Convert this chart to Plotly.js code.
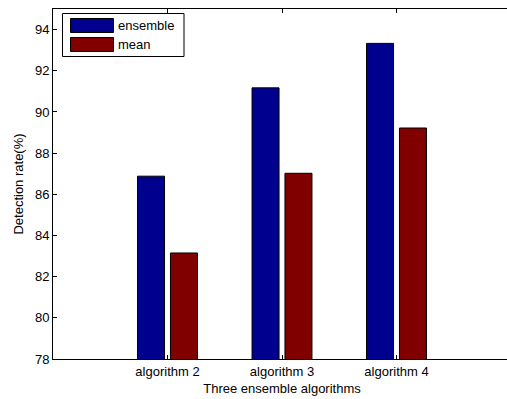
<!DOCTYPE html>
<html>
<head>
<meta charset="utf-8">
<script src="https://cdn.plot.ly/plotly-3.0.1.min.js"></script>
<style>
html, body { margin:0; padding:0; overflow:hidden; background:#fff; width:507px; height:399px; }
#chart { width:512px; height:399px; }
</style>
</head>
<body>
<div id="chart"></div>
<script>
const categories = ['algorithm 2', 'algorithm 3', 'algorithm 4'];
const seriesNames = ['ensemble', 'mean'];
const ensembleValues = [86.88, 91.17, 93.33];
const meanValues = [83.15, 87.02, 89.22];
const seriesColors = ['#00008F', '#800000'];
const yTicks = [78, 80, 82, 84, 86, 88, 90, 92, 94];

const W = 512, H = 399;
const M = {l: 53, r: 1, t: 9, b: 40};
const pw = W - M.l - M.r, ph = H - M.t - M.b;
const px = x => (x - M.l) / pw;
const py = y => (H - M.b - y) / ph;

const font = {family: 'Liberation Sans, Arial, Helvetica, sans-serif', size: 13, color: '#000'};

const traces = [ensembleValues, meanValues].map((vals, i) => ({
  type: 'bar',
  name: seriesNames[i],
  x: categories,
  y: vals,
  marker: {color: seriesColors[i], line: {color: '#000', width: 1}},
  showlegend: false,
  hoverinfo: 'none'
}));

const shapes = [
  {type: 'rect', xref: 'paper', yref: 'paper', x0: px(62.5), x1: px(184), y0: py(13.5), y1: py(56.5),
   line: {color: '#000', width: 1}, fillcolor: '#fff', layer: 'above'},
  {type: 'rect', xref: 'paper', yref: 'paper', x0: px(70.5), x1: px(113.5), y0: py(18.5), y1: py(32.5),
   line: {color: '#000', width: 1}, fillcolor: seriesColors[0], layer: 'above'},
  {type: 'rect', xref: 'paper', yref: 'paper', x0: px(70.5), x1: px(113.5), y0: py(37.5), y1: py(51.5),
   line: {color: '#000', width: 1}, fillcolor: seriesColors[1], layer: 'above'}
];
const annotations = seriesNames.map((n, i) => ({
  xref: 'paper', yref: 'paper', x: px(116), y: py(i === 0 ? 25.5 : 44.5),
  xanchor: 'left', yanchor: 'middle', text: n, showarrow: false, font: font
}));

const axisCommon = {
  showline: true, linecolor: '#000', linewidth: 1, mirror: 'ticks',
  ticks: 'inside', ticklen: 4, tickcolor: '#000', tickwidth: 1,
  showgrid: false, zeroline: false, tickfont: font
};

const layout = {
  width: W, height: H,
  margin: M,
  paper_bgcolor: '#fff', plot_bgcolor: '#fff',
  font: font,
  barmode: 'group', bargap: 0.425, bargroupgap: 0.18,
  xaxis: Object.assign({}, axisCommon, {
    type: 'category', range: [-1, 3],
    title: {text: 'Three ensemble algorithms', font: font, standoff: 6}
  }),
  yaxis: Object.assign({}, axisCommon, {
    range: [78, 95], tickvals: yTicks, ticktext: yTicks.map(String),
    title: {text: 'Detection rate(%)', font: font, standoff: 8}
  }),
  shapes: shapes,
  annotations: annotations,
  showlegend: false
};

Plotly.newPlot('chart', traces, layout, {staticPlot: true, displayModeBar: false});
</script>
</body>
</html>
